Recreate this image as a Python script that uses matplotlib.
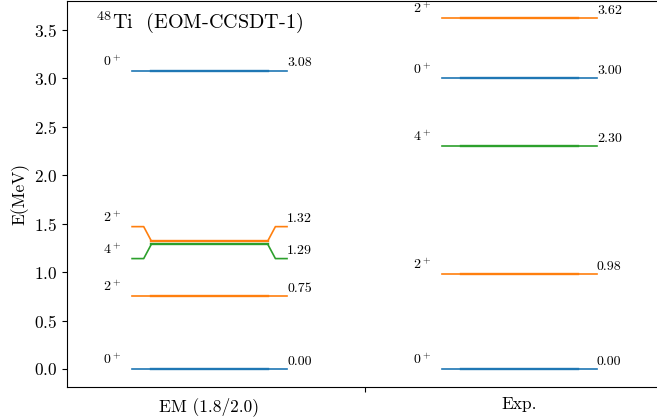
import matplotlib
matplotlib.use('Agg')
import numpy as np
import matplotlib.pyplot as plt

plt.rcParams['font.family'] = 'serif'
plt.rcParams['font.serif'] = ['cmr10']
plt.rcParams['mathtext.fontset'] = 'cm'
plt.rcParams['axes.formatter.use_mathtext'] = True

# level data
columns = ['EM (1.8/2.0)', 'Exp.']
em_E = [0.00, 0.75, 1.29, 1.32, 3.08]
em_J = ['0', '2', '4', '2', '0']
em_label_E = [0.00, 0.75, 1.14, 1.47, 3.08]
exp_E = [0.00, 0.98, 2.30, 3.00, 3.62]
exp_J = ['0', '2', '4', '0', '2']
exp_label_E = [0.00, 0.98, 2.30, 3.00, 3.62]

jcol = {'0': 'C0', '2': 'C1', '4': 'C2'}

fig = plt.figure(figsize=(6.57, 4.2), dpi=100)
ax = fig.add_axes([67/657, 33/420, 595/657, 386/420])

half = 0.25
def draw_column(xc, E, J, LE):
    for e, j, le in zip(E, J, LE):
        c = jcol[j]
        xs = [xc-half, xc-0.2125, xc-0.1875, xc+0.1875, xc+0.2125, xc+half]
        ys = [le, le, e, e, le, le]
        ax.plot(xs, ys, color=c, lw=1.2)
        ax.plot([xc-0.1875, xc+0.1875], [e, e], color=c, lw=1.7)
        ax.text(xc-half-0.035, le+0.02, '$%s^+$' % j, ha='right', va='bottom', fontsize=10)
        ax.text(xc+half, le+0.015, '%.2f' % e, ha='left', va='bottom', fontsize=10)

draw_column(0, em_E, em_J, em_label_E)
draw_column(1, exp_E, exp_J, exp_label_E)

ax.text(-0.365, 3.58, r'$^{48}$Ti  (EOM-CCSDT-1)', fontsize=14.5, va='center', ha='left')

ax.set_xlim(-0.46, 1.46)
ax.set_ylim(-0.186, 3.80)
ax.set_xticks([0.5])
ax.set_xticklabels([''])
ax.set_xticks([0, 1], minor=True)
ax.set_xticklabels(columns, minor=True, fontsize=12.5)
ax.tick_params(axis='x', which='minor', length=0, pad=7)
ax.set_yticks(np.arange(0, 3.6, 0.5))
ax.tick_params(axis='y', labelsize=12.5)
ax.set_ylabel('E(MeV)', fontsize=12.5, labelpad=3)

plt.savefig('out.png', dpi=100)
